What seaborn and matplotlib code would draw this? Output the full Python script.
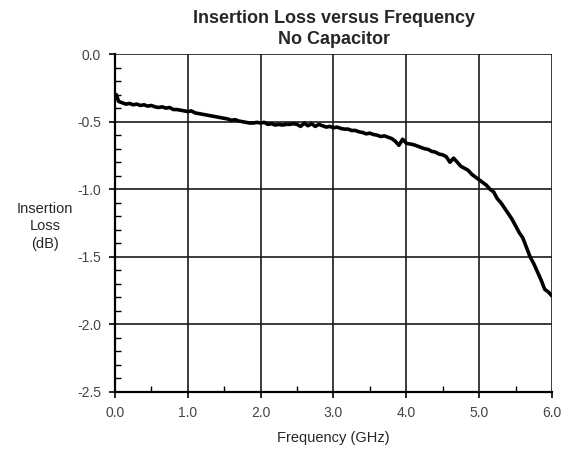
import numpy as np
import pandas as pd
import seaborn as sns
import matplotlib.pyplot as plt
from matplotlib.ticker import MultipleLocator

# Frequency (GHz) and insertion loss (dB)
freq = [0.00, 0.02, 0.05, 0.10, 0.15, 0.20, 0.25, 0.30, 0.35, 0.40, 0.45,
        0.50, 0.55, 0.60, 0.65, 0.70, 0.75, 0.80, 0.85, 0.90, 0.95,
        1.00, 1.05, 1.10, 1.15, 1.20, 1.25, 1.30, 1.35, 1.40, 1.45,
        1.50, 1.55, 1.60, 1.65, 1.70, 1.75, 1.80, 1.85, 1.90, 1.95,
        2.00, 2.05, 2.10, 2.15, 2.20, 2.25, 2.30, 2.35, 2.40, 2.45,
        2.50, 2.55, 2.60, 2.65, 2.70, 2.75, 2.80, 2.85, 2.90, 2.95,
        3.00, 3.05, 3.10, 3.15, 3.20, 3.25, 3.30, 3.35, 3.40, 3.45,
        3.50, 3.55, 3.60, 3.65, 3.70, 3.75, 3.80, 3.85, 3.90, 3.95,
        4.00, 4.05, 4.10, 4.15, 4.20, 4.25, 4.30, 4.35, 4.40, 4.45,
        4.50, 4.55, 4.60, 4.65, 4.70, 4.75, 4.80, 4.85, 4.90, 4.95,
        5.00, 5.05, 5.10, 5.15, 5.20, 5.25, 5.30, 5.35, 5.40, 5.45,
        5.50, 5.55, 5.60, 5.65, 5.70, 5.75, 5.80, 5.85, 5.90, 5.95, 6.00]
loss = [-0.33, -0.30, -0.35, -0.36, -0.37, -0.365, -0.375, -0.37, -0.38, -0.375, -0.385,
        -0.38, -0.39, -0.395, -0.39, -0.40, -0.395, -0.41, -0.41, -0.415, -0.42,
        -0.425, -0.42, -0.435, -0.44, -0.445, -0.45, -0.455, -0.46, -0.465, -0.47,
        -0.475, -0.48, -0.49, -0.485, -0.495, -0.50, -0.505, -0.51, -0.51, -0.505,
        -0.51, -0.505, -0.52, -0.515, -0.525, -0.52, -0.525, -0.52, -0.52, -0.515,
        -0.52, -0.535, -0.51, -0.53, -0.515, -0.535, -0.52, -0.53, -0.54, -0.535,
        -0.545, -0.54, -0.55, -0.555, -0.555, -0.565, -0.565, -0.575, -0.58, -0.59,
        -0.585, -0.595, -0.60, -0.61, -0.605, -0.615, -0.625, -0.645, -0.675, -0.63,
        -0.66, -0.665, -0.67, -0.68, -0.69, -0.70, -0.705, -0.72, -0.725, -0.74,
        -0.745, -0.76, -0.80, -0.77, -0.80, -0.83, -0.845, -0.86, -0.89, -0.91,
        -0.93, -0.95, -0.97, -1.00, -1.02, -1.07, -1.10, -1.14, -1.18, -1.22,
        -1.27, -1.32, -1.36, -1.43, -1.50, -1.55, -1.61, -1.67, -1.74, -1.76, -1.79]

df = pd.DataFrame({'freq': freq, 'loss': loss})

sns.set_style('white')
plt.rcParams['font.family'] = ['Liberation Sans', 'DejaVu Sans']

fig = plt.figure(figsize=(5.69, 4.51), dpi=100)
ax = fig.add_axes([0.202, 0.131, 0.768, 0.749])

sns.lineplot(data=df, x='freq', y='loss', ax=ax, color='black', linewidth=2.6)

ax.set_xlim(0, 6)
ax.set_ylim(-2.5, 0)
ax.xaxis.set_major_locator(MultipleLocator(1.0))
ax.xaxis.set_minor_locator(MultipleLocator(0.5))
ax.yaxis.set_major_locator(MultipleLocator(0.5))
ax.yaxis.set_minor_locator(MultipleLocator(0.1))
ax.xaxis.set_major_formatter(lambda v, p: f'{v:.1f}')
ax.yaxis.set_major_formatter(lambda v, p: f'{v:.1f}')

ax.grid(True, which='major', color='#1a1a1a', linewidth=1.2)
ax.tick_params(axis='both', which='major', direction='out', length=4, width=1.2, color='black',
               labelsize=10, labelcolor='#444444', pad=6,
               bottom=True, left=True)
ax.tick_params(axis='both', which='minor', direction='in', length=4, width=1.0, color='black',
               bottom=True, left=True)

for side in ['left', 'bottom']:
    ax.spines[side].set_color('black')
    ax.spines[side].set_linewidth(1.6)
for side in ['top', 'right']:
    ax.spines[side].set_visible(False)

ax.set_xlabel('Frequency (GHz)', fontsize=10.5, labelpad=8)
ax.set_ylabel('Insertion\nLoss\n(dB)', fontsize=10.5, rotation=0, ha='center', va='center',
              linespacing=1.35)
ax.yaxis.set_label_coords(-0.16, 0.49)

fig.suptitle('Insertion Loss versus Frequency\nNo Capacitor', x=0.587, y=0.978,
             fontsize=13, fontweight='bold', linespacing=1.3)

fig.savefig('out.png', dpi=100)
